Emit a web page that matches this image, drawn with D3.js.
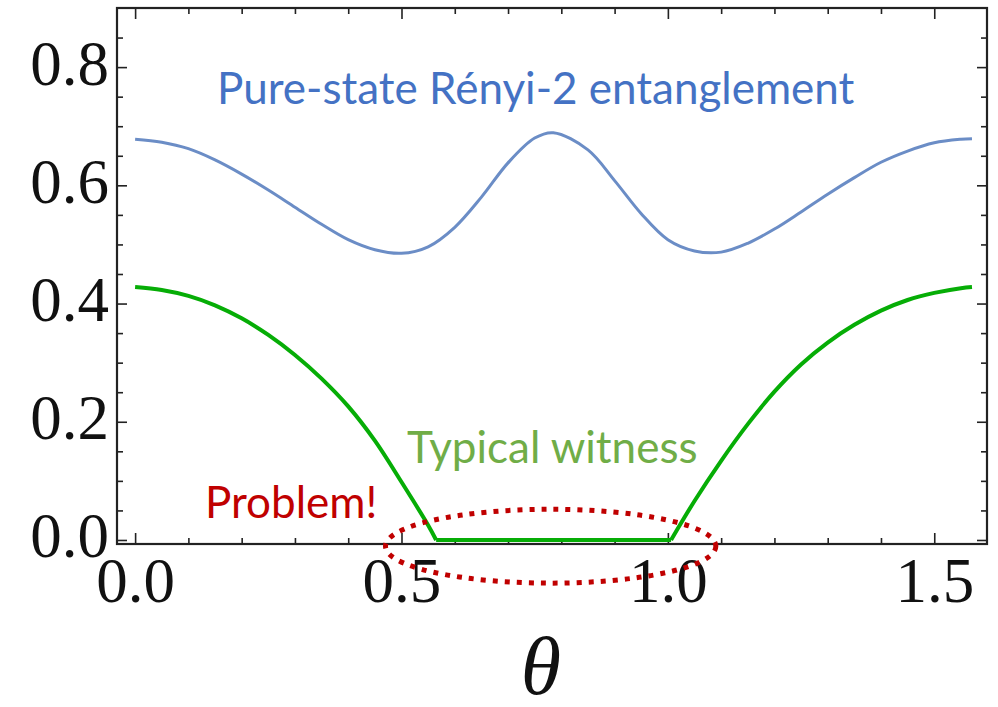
<!DOCTYPE html>
<html>
<head>
<meta charset="utf-8">
<script src="https://cdn.jsdelivr.net/npm/d3@7"></script>
<style>
  body { margin: 0; background: #fff; }
  svg { display: block; }
</style>
</head>
<body>
<div id="chart"></div>
<script>
// pure-state Renyi-2 entanglement (blue)
var renyiTheta = [0, 0.05, 0.1, 0.15, 0.2, 0.25, 0.3, 0.35, 0.4, 0.45, 0.5, 0.55, 0.6, 0.65, 0.7, 0.75, 0.785,
    0.85, 0.9, 0.95, 1.0, 1.05, 1.1, 1.15, 1.2, 1.25, 1.3, 1.35, 1.4, 1.45, 1.5, 1.55, 1.5708];
var renyi = [0.678, 0.673, 0.662, 0.643, 0.619, 0.592, 0.563, 0.534, 0.508, 0.491, 0.485, 0.496, 0.529, 0.580, 0.638, 0.680, 0.689,
    0.660, 0.608, 0.552, 0.508, 0.489, 0.487, 0.502, 0.526, 0.555, 0.585, 0.613, 0.639, 0.658, 0.672, 0.678, 0.679];

// typical witness (green); flat at zero between the two kinks
var witnessTheta = [0, 0.05, 0.1, 0.15, 0.2, 0.25, 0.3, 0.35, 0.4, 0.45, 0.5, 0.55, 0.565,
    1.006, 1.05, 1.1, 1.15, 1.2, 1.25, 1.3, 1.35, 1.4, 1.45, 1.5, 1.55, 1.5708];
var witness = [0.428, 0.423, 0.413, 0.397, 0.375, 0.347, 0.313, 0.273, 0.226, 0.168, 0.098, 0.025, 0,
    0, 0.066, 0.134, 0.196, 0.251, 0.297, 0.334, 0.364, 0.388, 0.406, 0.418, 0.426, 0.428];

var xMajor = [0, 0.5, 1.0, 1.5];
var xMinor = [0.1, 0.2, 0.3, 0.4, 0.6, 0.7, 0.8, 0.9, 1.1, 1.2, 1.3, 1.4];
var yMajor = [0, 0.2, 0.4, 0.6, 0.8];
var yMinor = [0.05, 0.1, 0.15, 0.25, 0.3, 0.35, 0.45, 0.5, 0.55, 0.65, 0.7, 0.75, 0.85];

// the circled region on the zero stretch of the witness
var problemTheta = [0.47, 1.09];
var problemY = [0.052, -0.073];

var width = 998, height = 707;
var frameL = 117, frameR = 987, frameT = 8, frameB = 544;

var svg = d3.select("#chart").append("svg")
    .attr("width", width)
    .attr("height", height);

var x = d3.scaleLinear().domain([-0.034, 1.599]).range([frameL, frameR]);
var y = d3.scaleLinear().domain([-0.0068, 0.9]).range([frameB, frameT]);

var tickFont = "'Liberation Serif', 'Times New Roman', serif";

// frame ticks, all pointing in
function styleAxis(g) {
    g.select(".domain").remove();
    g.selectAll(".tick line").attr("stroke", "#222").attr("stroke-width", 1.6);
    g.selectAll("text")
        .attr("font-family", tickFont)
        .attr("font-size", 63)
        .attr("fill", "#111");
}

svg.append("g").attr("transform", "translate(0," + frameB + ")")
    .call(d3.axisBottom(x).tickValues(xMajor).tickSizeInner(-11).tickSizeOuter(0).tickPadding(13).tickFormat(d3.format(".1f")))
    .call(styleAxis);
svg.append("g").attr("transform", "translate(0," + frameB + ")")
    .call(d3.axisBottom(x).tickValues(xMinor).tickSizeInner(-6).tickSizeOuter(0).tickFormat(""))
    .call(styleAxis);
svg.append("g").attr("transform", "translate(0," + frameT + ")")
    .call(d3.axisTop(x).tickValues(xMajor).tickSizeInner(-11).tickSizeOuter(0).tickFormat(""))
    .call(styleAxis);
svg.append("g").attr("transform", "translate(0," + frameT + ")")
    .call(d3.axisTop(x).tickValues(xMinor).tickSizeInner(-6).tickSizeOuter(0).tickFormat(""))
    .call(styleAxis);

var yAxis = svg.append("g").attr("transform", "translate(" + frameL + ",0)")
    .call(d3.axisLeft(y).tickValues(yMajor).tickSizeInner(-10).tickSizeOuter(0).tickPadding(8).tickFormat(d3.format(".1f")))
    .call(styleAxis);
yAxis.selectAll("text").attr("dy", "0.27em");
svg.append("g").attr("transform", "translate(" + frameL + ",0)")
    .call(d3.axisLeft(y).tickValues(yMinor).tickSizeInner(-6).tickSizeOuter(0).tickFormat(""))
    .call(styleAxis);
svg.append("g").attr("transform", "translate(" + frameR + ",0)")
    .call(d3.axisRight(y).tickValues(yMajor).tickSizeInner(-10).tickSizeOuter(0).tickFormat(""))
    .call(styleAxis);
svg.append("g").attr("transform", "translate(" + frameR + ",0)")
    .call(d3.axisRight(y).tickValues(yMinor).tickSizeInner(-6).tickSizeOuter(0).tickFormat(""))
    .call(styleAxis);

// curves
var line = d3.line()
    .x(function (d) { return x(d[0]); })
    .y(function (d) { return y(d[1]); })
    .curve(d3.curveCatmullRom.alpha(0.5));

var renyiPts = renyiTheta.map(function (t, i) { return [t, renyi[i]]; });
var witnessPts = witnessTheta.map(function (t, i) { return [t, witness[i]]; });

svg.append("path")
    .datum(renyiPts)
    .attr("fill", "none")
    .attr("stroke", "#6b8dc6")
    .attr("stroke-width", 3)
    .attr("d", line);

// witness: smooth where it is positive, straight where it sits at zero
var zeroStart = witnessTheta.indexOf(0.565), zeroEnd = witnessTheta.indexOf(1.006);
var witnessParts = [
    witnessPts.slice(0, zeroStart + 1),
    witnessPts.slice(zeroStart, zeroEnd + 1),
    witnessPts.slice(zeroEnd)
];
svg.append("g").selectAll("path")
    .data(witnessParts)
    .join("path")
    .attr("fill", "none")
    .attr("stroke", "#06ad06")
    .attr("stroke-width", 4)
    .attr("stroke-linejoin", "round")
    .attr("d", line);

// frame on top of the curves
svg.append("rect")
    .attr("x", frameL).attr("y", frameT)
    .attr("width", frameR - frameL).attr("height", frameB - frameT)
    .attr("fill", "none")
    .attr("stroke", "#222")
    .attr("stroke-width", 2.2);

// dotted ellipse
svg.append("ellipse")
    .attr("cx", (x(problemTheta[0]) + x(problemTheta[1])) / 2)
    .attr("cy", (y(problemY[0]) + y(problemY[1])) / 2)
    .attr("rx", (x(problemTheta[1]) - x(problemTheta[0])) / 2)
    .attr("ry", (y(problemY[1]) - y(problemY[0])) / 2)
    .attr("fill", "none")
    .attr("stroke", "#c00000")
    .attr("stroke-width", 5)
    .attr("stroke-dasharray", "5 7");

// annotations
var noteFont = "Lato, 'Open Sans', sans-serif";
svg.append("text")
    .attr("x", 217).attr("y", 104)
    .attr("font-family", noteFont).attr("font-size", 44)
    .attr("fill", "#4472c4")
    .text("Pure-state Rényi-2 entanglement");
svg.append("text")
    .attr("x", 407).attr("y", 463)
    .attr("font-family", noteFont).attr("font-size", 44)
    .attr("fill", "#70ad47")
    .text("Typical witness");
svg.append("text")
    .attr("x", 205).attr("y", 518)
    .attr("font-family", noteFont).attr("font-size", 44)
    .attr("fill", "#c00000")
    .text("Problem!");

// axis label
svg.append("text")
    .attr("x", 541).attr("y", 694)
    .attr("text-anchor", "middle")
    .attr("font-family", tickFont)
    .attr("font-style", "italic")
    .attr("font-size", 82)
    .attr("fill", "#111")
    .text("θ");
</script>
</body>
</html>
